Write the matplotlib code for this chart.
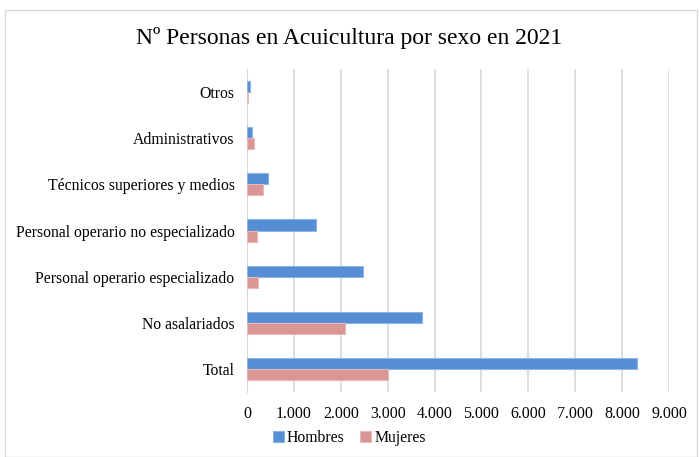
import matplotlib.pyplot as plt
import numpy as np
from matplotlib.patches import Rectangle
from matplotlib.ticker import FuncFormatter

plt.rcParams['font.family'] = ['Liberation Serif', 'DejaVu Serif']

# Datos
categorias = ["Otros", "Administrativos", "Técnicos superiores y medios",
              "Personal operario no especializado", "Personal operario especializado",
              "No asalariados", "Total"]
hombres = [57, 113, 450, 1470, 2470, 3740, 8310]
mujeres = [20, 150, 350, 207, 240, 2090, 3000]

fig = plt.figure(figsize=(6.99, 4.57), dpi=100)
ax = fig.add_axes([247 / 699, 1 - 392 / 457, (669 - 247) / 699, (392 - 69) / 457])

# Marco del grafico
fig.patches.append(Rectangle((5 / 699, 0.0), 692 / 699, 1 - 10 / 457, transform=fig.transFigure,
                             fill=False, edgecolor="#d9d9d9", linewidth=1))

y = np.arange(len(categorias))
h = 0.24
ax.barh(y - h / 2, hombres, height=h, color="#558ed5", edgecolor="#8db4e2", linewidth=0.8,
        label="Hombres", zorder=3)
ax.barh(y + h / 2, mujeres, height=h, color="#d99694", edgecolor="#e6b9b8", linewidth=0.8,
        label="Mujeres", zorder=3)

ax.set_ylim(len(categorias) - 0.5, -0.5)
ax.set_yticks(y)
ax.set_yticklabels(categorias, fontsize=11.3)
ax.set_xlim(0, 9000)
ax.set_xticks(np.arange(0, 9001, 1000))
ax.xaxis.set_major_formatter(FuncFormatter(lambda v, p: f"{int(v):,}".replace(",", ".")))
ax.tick_params(axis="x", labelsize=11.5, length=0, pad=10)
ax.tick_params(axis="y", length=0, pad=9)
ax.grid(axis="x", color="#d9d9d9", linewidth=1.2, zorder=0)
for s in ["top", "right", "bottom"]:
    ax.spines[s].set_visible(False)
ax.spines["left"].set_color("#d9d9d9")

fig.text(0.5, 1 - 38 / 457, "Nº Personas en Acuicultura por sexo en 2021", ha="center", va="center",
         fontsize=17)

fig.legend(loc="center", bbox_to_anchor=(0.5, 1 - 438 / 457), ncol=2, frameon=False, fontsize=11.3,
           handlelength=0.7, handleheight=0.7, handletextpad=0.2, columnspacing=1.0)

fig.savefig("out.png", dpi=100)
